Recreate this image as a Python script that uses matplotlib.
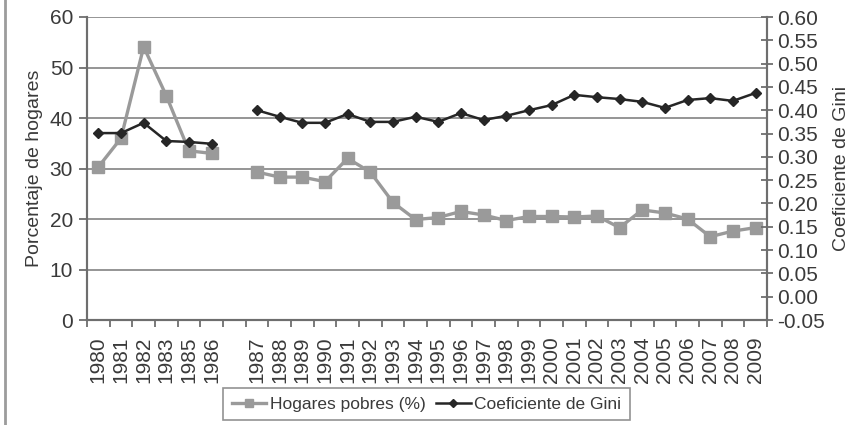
"""
Hogares pobres y coeficiente de Gini, 1980-2009
"""

import numpy as np
import matplotlib
matplotlib.use("Agg")
import matplotlib.pyplot as plt
from matplotlib.lines import Line2D

plt.rcParams['font.family'] = ['Liberation Sans', 'DejaVu Sans']

# categories (blank slot between 1986 and 1987, no 1984)
years = ['1980', '1981', '1982', '1983', '1985', '1986', '',
         '1987', '1988', '1989', '1990', '1991', '1992', '1993', '1994',
         '1995', '1996', '1997', '1998', '1999', '2000', '2001', '2002',
         '2003', '2004', '2005', '2006', '2007', '2008', '2009']

# poor households (%), left axis
hogares_pobres = [30.3, 36.0, 54.1, 44.4, 33.5, 33.0, None,
                  29.3, 28.3, 28.3, 27.4, 32.0, 29.3, 23.3, 19.9,
                  20.3, 21.5, 20.8, 19.7, 20.5, 20.5, 20.4, 20.6,
                  18.3, 21.8, 21.2, 20.0, 16.5, 17.6, 18.3]

# Gini coefficient, right axis
gini = [0.351, 0.351, 0.373, 0.334, 0.332, 0.328, None,
        0.400, 0.386, 0.373, 0.373, 0.392, 0.375, 0.375, 0.386,
        0.375, 0.394, 0.379, 0.388, 0.400, 0.411, 0.433, 0.428,
        0.424, 0.418, 0.405, 0.422, 0.426, 0.420, 0.437]

left_ticks = [0, 10, 20, 30, 40, 50, 60]
right_ticks = np.arange(-0.05, 0.601, 0.05)

grey = '#9a9a9a'
dark = '#262626'
axis_col = '#6e6e6e'
txt_col = '#3a3a3a'

x = np.arange(len(years))
pobres = np.array([np.nan if v is None else v for v in hogares_pobres])
g = np.array([np.nan if v is None else v for v in gini])

fig = plt.figure(figsize=(8.53, 4.25), dpi=100)
ax = fig.add_axes([0.102, 0.247, 0.797, 0.713])
ax2 = ax.twinx()

# grid lines on the left scale
for t in left_ticks[1:]:
    ax.axhline(t, color='#8c8c8c', lw=1.3, zorder=0)

l1, = ax.plot(x, pobres, color=grey, lw=2.4, marker='s', ms=8,
              mfc=grey, mec=grey, zorder=3, clip_on=False)
l2, = ax2.plot(x, g, color=dark, lw=1.8, marker='D', ms=5.5,
               mfc=dark, mec=dark, zorder=3)

ax.set_xlim(-0.5, len(years) - 0.5)
ax.set_ylim(0, 60)
ax2.set_ylim(-0.05, 0.60)

ax.set_yticks(left_ticks)
ax2.set_yticks(right_ticks)
ax2.set_yticklabels([f'{v:.2f}' for v in right_ticks])

ax.set_xticks(x)
ax.set_xticklabels(years, rotation=90)
ax.set_xticks(np.arange(-0.5, len(years)), minor=True)
ax.tick_params(axis='x', which='major', length=0, pad=12, labelsize=15,
               colors=txt_col)
ax.tick_params(axis='x', which='minor', length=5, width=1.3,
               color=axis_col, direction='out')
ax.tick_params(axis='y', length=6, width=1.3, color=axis_col,
               labelsize=15, labelcolor=txt_col, pad=4)
ax2.tick_params(axis='y', length=9, width=1.3, color=axis_col,
                direction='inout', labelsize=15, labelcolor=txt_col, pad=3)

for a in (ax, ax2):
    a.spines['top'].set_visible(False)
    for s in ('left', 'right', 'bottom'):
        a.spines[s].set_color(axis_col)
        a.spines[s].set_linewidth(1.5)

ax.set_ylabel('Porcentaje de hogares', fontsize=14, color=txt_col)
ax.yaxis.set_label_coords(-0.064, 0.5)
ax2.set_ylabel('Coeficiente de Gini', fontsize=14, color=txt_col,
               rotation=90)
ax2.yaxis.set_label_coords(1.098, 0.5)

leg = fig.legend([l1, l2], ['Hogares pobres (%)', 'Coeficiente de Gini'],
                 loc='center', bbox_to_anchor=(0.5, 0.049), ncol=2,
                 fontsize=12.5, frameon=True, fancybox=False,
                 handlelength=2.0, handletextpad=0.2, columnspacing=0.6,
                 borderpad=0.5, markerscale=0.8)
leg.get_frame().set_edgecolor('#777777')
leg.get_frame().set_linewidth(1.2)
for t in leg.get_texts():
    t.set_color(txt_col)

# scan border on the left
fig.add_artist(Line2D([0.006, 0.006], [0, 1], color='#9c9c9c', lw=2))

fig.savefig('out.png', dpi=100)
